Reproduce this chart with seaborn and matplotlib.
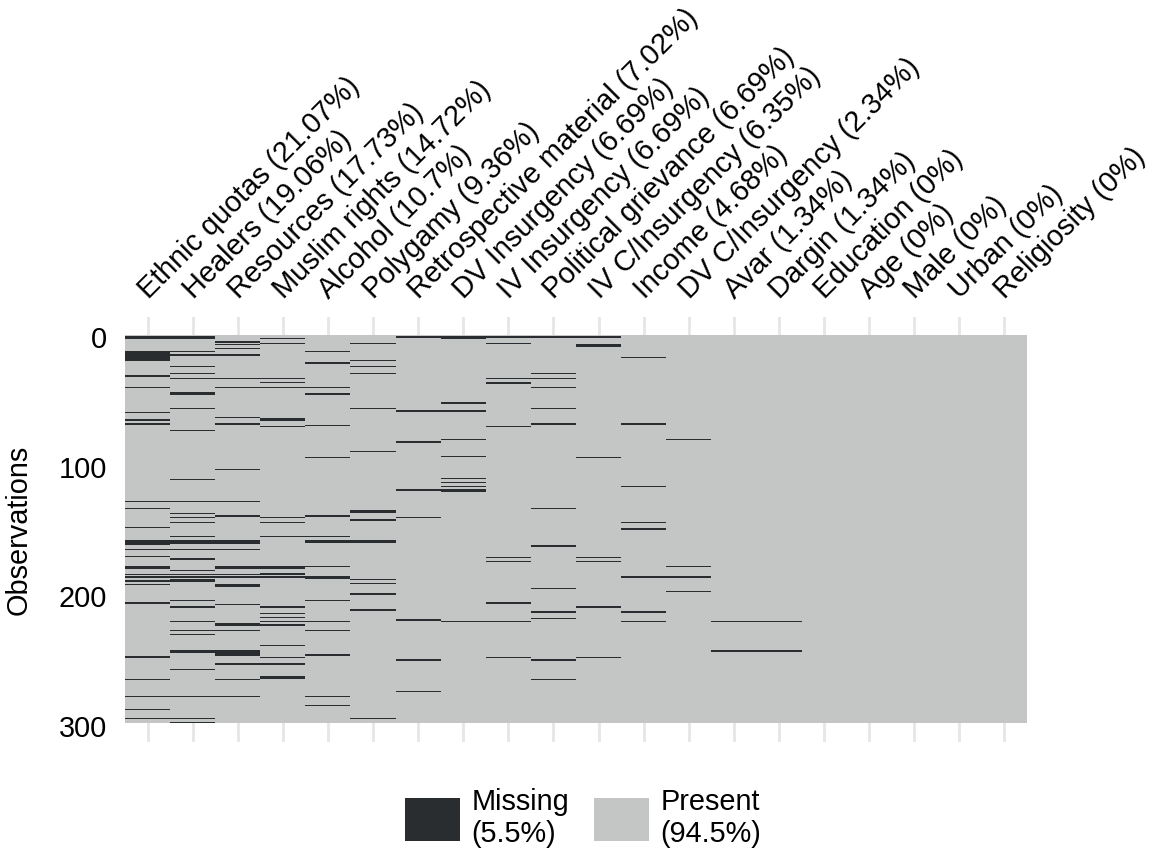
import numpy as np
import pandas as pd
import matplotlib.pyplot as plt
import matplotlib.transforms as mtransforms
from matplotlib.colors import ListedColormap
from matplotlib.patches import Patch
import seaborn as sns

# number of observations (rows)
n_obs = 299

# column labels (as shown on top of the map)
var_labels = ['Ethnic quotas (21.07%)', 'Healers (19.06%)', 'Resources (17.73%)',
              'Muslim rights (14.72%)', 'Alcohol (10.7%)', 'Polygamy (9.36%)',
              'Retrospective material (7.02%)', 'DV Insurgency (6.69%)',
              'IV Insurgency (6.69%)', 'Political grievance (6.69%)',
              'IV C/Insurgency (6.35%)', 'Income (4.68%)', 'DV C/Insurgency (2.34%)',
              'Avar (1.34%)', 'Dargin (1.34%)', 'Education (0%)', 'Age (0%)',
              'Male (0%)', 'Urban (0%)', 'Religiosity (0%)']

# rows with missing values, per variable
ethnic_quotas = [1, 2, 12, 13, 14, 15, 16, 17, 18, 19, 31, 40, 59, 65, 68, 128, 133, 148,
                 158, 159, 160, 161, 165, 170, 178, 179, 184, 186, 189, 192, 206, 247, 248,
                 265, 278, 288, 295]
healers = [1, 2, 12, 15, 24, 29, 33, 44, 45, 56, 73, 111, 128, 137, 140, 144, 155, 158,
           159, 160, 165, 172, 181, 184, 186, 188, 189, 204, 209, 220, 227, 230, 243, 244,
           257, 278, 295, 298]
resources = [5, 7, 10, 15, 33, 40, 63, 68, 103, 128, 139, 158, 159, 160, 165, 178, 179,
             184, 186, 192, 193, 207, 222, 223, 227, 243, 244, 245, 246, 253, 265, 278]
muslim_rights = [2, 6, 33, 36, 40, 64, 65, 70, 140, 144, 155, 178, 179, 183, 184, 186, 209,
                 214, 217, 220, 223, 239, 248, 253, 263, 264]
alcohol = [12, 21, 40, 45, 69, 94, 139, 155, 158, 159, 178, 186, 187, 204, 220, 227, 246,
           278, 285]
polygamy = [6, 19, 24, 29, 56, 89, 135, 136, 142, 158, 159, 188, 191, 199, 211, 212, 295]
retrospective = [1, 58, 82, 119, 140, 219, 250, 274]
dv_insurgency = [1, 2, 52, 58, 80, 93, 110, 113, 116, 119, 120, 220]
iv_insurgency = [1, 6, 33, 36, 37, 70, 171, 174, 206, 220, 248]
political_grievance = [1, 29, 33, 40, 56, 68, 133, 162, 195, 213, 218, 250, 265]
iv_c_insurgency = [1, 7, 8, 94, 171, 174, 209, 248]
income = [17, 68, 116, 144, 149, 186, 213, 220]
dv_c_insurgency = [80, 178, 186, 197]
avar = [220, 243]
dargin = [220, 243]
education = []
age = []
male = []
urban = []
religiosity = []

missing_lists = [ethnic_quotas, healers, resources, muslim_rights, alcohol, polygamy,
                 retrospective, dv_insurgency, iv_insurgency, political_grievance,
                 iv_c_insurgency, income, dv_c_insurgency, avar, dargin, education,
                 age, male, urban, religiosity]

# legend text
legend_labels = ['Missing\n(5.5%)', 'Present\n(94.5%)']

# build the 0/1 matrix (1 = missing)
df = pd.DataFrame(0, index=range(n_obs), columns=var_labels)
for col, rows in zip(var_labels, missing_lists):
    df.loc[rows, col] = 1

col_missing = '#2a2d2f'
col_present = '#c4c5c5'
fs = 20.8

plt.rcParams['font.family'] = ['Liberation Sans', 'DejaVu Sans']

fig = plt.figure(figsize=(11.55, 8.59), dpi=100)
ax = fig.add_axes([0.1082, 0.1362, 0.781, 0.4948])

sns.heatmap(df, cmap=ListedColormap([col_present, col_missing]), vmin=0, vmax=1,
            cbar=False, ax=ax, rasterized=True)

# panel slightly larger than the raster (ggplot style)
ax.set_ylim(n_obs + 14.6, -13.9)
ax.set_xlim(0, len(var_labels))
ax.grid(axis='x', color='#e6e6e6', linewidth=2)
ax.grid(axis='y', visible=False)
ax.set_axisbelow(True)
for s in ax.spines.values():
    s.set_visible(False)

# x labels on top, rotated
ax.set_xticks(np.arange(len(var_labels)) + 0.5)
ax.set_xticklabels(var_labels)
ax.tick_params(axis='x', top=False, bottom=False, labeltop=True, labelbottom=False,
               length=0, pad=9.5, labelsize=fs)
offset = mtransforms.ScaledTranslation(0.05, 0, fig.dpi_scale_trans)
for lab in ax.get_xticklabels():
    lab.set_rotation(45)
    lab.set_ha('left')
    lab.set_va('bottom')
    lab.set_rotation_mode('anchor')
    lab.set_transform(lab.get_transform() + offset)

# y ticks
ax.set_yticks([-0.5, 99.5, 199.5, 299.5])
ax.set_yticklabels(['0', '100', '200', '300'], rotation=0)
ax.tick_params(axis='y', length=0, pad=13, labelsize=fs)
yoff = mtransforms.ScaledTranslation(0, -0.055, fig.dpi_scale_trans)
for lab in ax.get_yticklabels():
    lab.set_transform(lab.get_transform() + yoff)
ax.set_xlabel('')
ax.set_ylabel('Observations', fontsize=fs)
ax.yaxis.set_label_coords(-0.102, 0.5)

# legend
handles = [Patch(facecolor=col_missing, edgecolor='none'),
           Patch(facecolor=col_present, edgecolor='none')]
fig.legend(handles, legend_labels, loc='center', bbox_to_anchor=(583 / 1155, 1 - 818 / 859),
           ncol=2, frameon=False, fontsize=fs, handlelength=1.9, handleheight=1.9,
           handletextpad=0.4, columnspacing=0.85)

fig.savefig('out.png', dpi=100)
